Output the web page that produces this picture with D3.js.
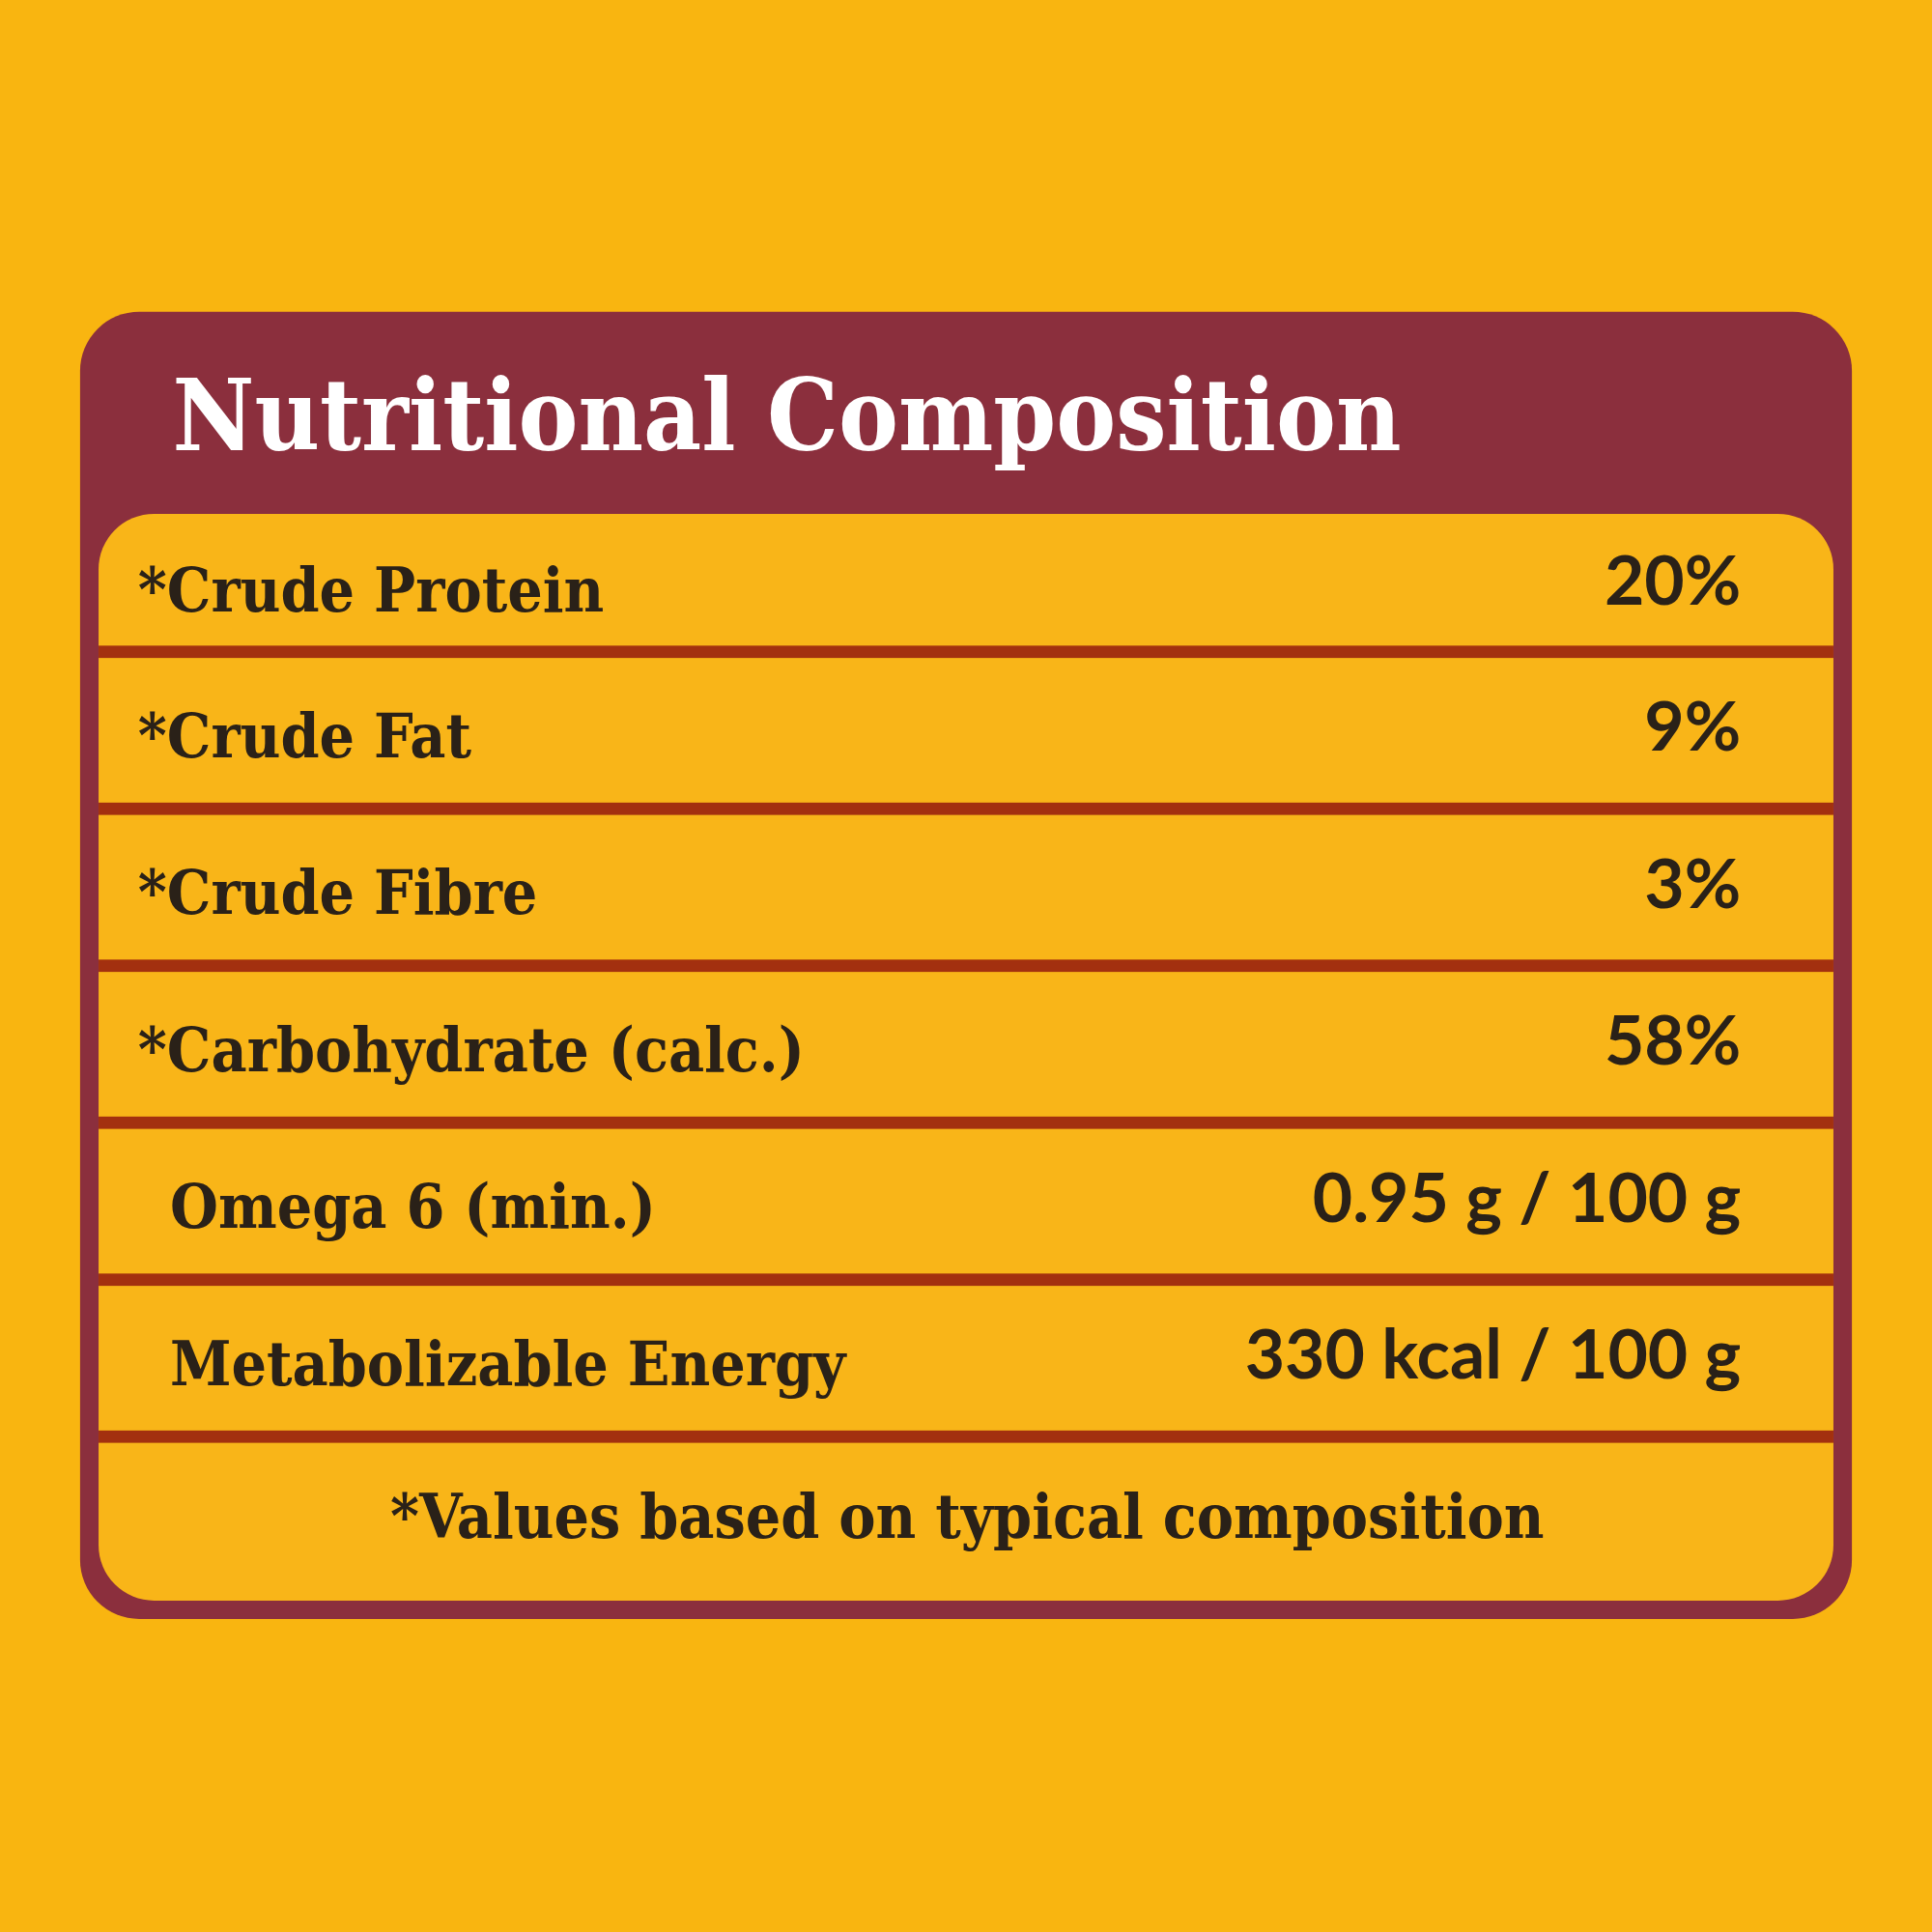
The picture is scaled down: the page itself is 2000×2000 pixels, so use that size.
<!DOCTYPE html>
<html><head><meta charset="utf-8">
<script src="https://cdn.jsdelivr.net/npm/d3@7"></script>
<style>body{margin:0;background:#F9B510}</style>
</head><body>
<script>
// nutrition rows
var labels = ["*Crude Protein", "*Crude Fat", "*Crude Fibre", "*Carbohydrate (calc.)", "Omega 6 (min.)", "Metabolizable Energy"];
var values = ["20%", "9%", "3%", "58%", "0.95 g / 100 g", "330 kcal / 100 g"];
var indent = [false, false, false, false, true, true];
var footnote = "*Values based on typical composition";
var title = "Nutritional Composition";

var svg = d3.select("body").append("svg")
	.attr("width", 2000).attr("height", 2000)
	.attr("viewBox", "0 0 1568 1568");

svg.append("rect").attr("width", 1568).attr("height", 1568).attr("fill", "#F9B510");
svg.append("rect").attr("x", 65).attr("y", 253).attr("width", 1438).attr("height", 1061)
	.attr("rx", 48).attr("fill", "#8B2F3D");
svg.append("rect").attr("x", 80).attr("y", 417).attr("width", 1408).attr("height", 882)
	.attr("rx", 45).attr("fill", "#F9B518");

svg.append("text").attr("x", 140).attr("y", 365).text(title)
	.attr("font-family", "DejaVu Serif Condensed, DejaVu Serif").attr("font-weight", "bold")
	.attr("font-size", 81).attr("fill", "#fff");

var rows = labels.concat(["foot"]);
var y = d3.scaleBand().domain(d3.range(rows.length)).range([401.6, 401.6 + 127.4 * rows.length]);

function base(i){ return y(i) + y.bandwidth() - (i === 0 ? 33 : 42); }

// separators
svg.selectAll("rect.sep").data(labels).enter().append("rect").attr("class", "sep")
	.attr("x", 80).attr("width", 1408).attr("height", 10)
	.attr("y", function(d, i){ return y(i) + y.bandwidth() - 5; })
	.attr("fill", "#A3300F");

svg.selectAll("text.lab").data(labels).enter().append("text").attr("class", "lab")
	.attr("x", function(d, i){ return indent[i] ? 138 : 112; })
	.attr("y", function(d, i){ return base(i); })
	.text(function(d){ return d; })
	.attr("font-family", "DejaVu Serif Condensed, DejaVu Serif").attr("font-weight", "bold")
	.attr("font-size", 50).attr("fill", "#2A2118");

svg.selectAll("text.val").data(values).enter().append("text").attr("class", "val")
	.attr("x", 1413).attr("text-anchor", "end")
	.attr("y", function(d, i){ return base(i) - 5; })
	.text(function(d){ return d; })
	.attr("font-family", "Lato, Open Sans, sans-serif").attr("font-weight", "bold")
	.attr("font-size", 56).attr("fill", "#2A2118");

svg.append("text").attr("x", 785).attr("text-anchor", "middle")
	.attr("y", y(6) + y.bandwidth() - 45).text(footnote)
	.attr("font-family", "DejaVu Serif Condensed, DejaVu Serif").attr("font-weight", "bold")
	.attr("font-size", 50).attr("fill", "#2A2118");
</script>
</body></html>
